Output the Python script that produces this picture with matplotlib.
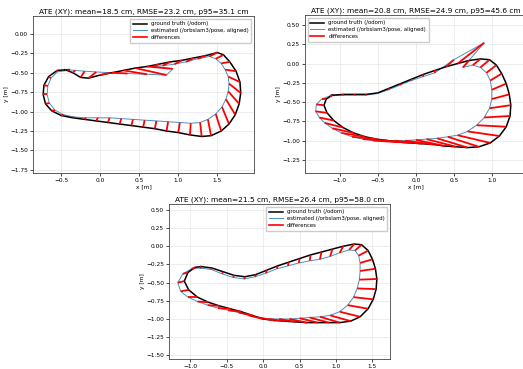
import matplotlib
matplotlib.use("Agg")
import matplotlib.pyplot as plt
from matplotlib.collections import LineCollection

# run 1 (top left)
gt1_x = [-0.40, -0.55, -0.66, -0.72, -0.73, -0.70, -0.62, -0.50, -0.35, -0.20, -0.05, 0.10, 0.25, 0.40, 0.55,
         0.70, 0.85, 1.00, 1.15, 1.30, 1.42, 1.55, 1.65, 1.73, 1.78, 1.80, 1.79, 1.74, 1.66, 1.58,
         1.50, 1.35, 1.20, 1.05, 0.90, 0.75, 0.60, 0.45, 0.30, 0.15, 0.00, -0.15, -0.25, -0.35, -0.45]
gt1_y = [-0.46, -0.47, -0.55, -0.66, -0.78, -0.90, -0.99, -1.05, -1.08, -1.10, -1.12, -1.14, -1.16, -1.18, -1.20,
         -1.22, -1.25, -1.27, -1.30, -1.32, -1.31, -1.25, -1.16, -1.04, -0.90, -0.76, -0.62, -0.48, -0.36, -0.27,
         -0.24, -0.28, -0.31, -0.34, -0.36, -0.39, -0.42, -0.44, -0.47, -0.50, -0.53, -0.57, -0.56, -0.50, -0.46]
est1_x = [-0.42, -0.55, -0.63, -0.67, -0.68, -0.65, -0.58, -0.47, -0.33, -0.18, -0.03, 0.12, 0.27, 0.42, 0.57,
          0.72, 0.87, 1.02, 1.16, 1.28, 1.38, 1.48, 1.56, 1.61, 1.64, 1.65, 1.64, 1.60, 1.55, 1.48,
          1.40, 1.25, 1.10, 0.95, 0.80, 0.68, 0.93, 0.85, 0.60, 0.35, 0.13, -0.05, -0.20, -0.32, -0.44]
est1_y = [-0.47, -0.49, -0.57, -0.67, -0.78, -0.89, -0.98, -1.04, -1.07, -1.08, -1.08, -1.08, -1.09, -1.10, -1.11,
          -1.12, -1.13, -1.14, -1.15, -1.14, -1.10, -1.03, -0.94, -0.84, -0.74, -0.64, -0.55, -0.46, -0.38, -0.32,
          -0.29, -0.32, -0.36, -0.39, -0.41, -0.42, -0.45, -0.53, -0.52, -0.51, -0.50, -0.49, -0.48, -0.47, -0.46]

# run 2 (top right)
gt2_x = [-1.10, -0.95, -0.80, -0.65, -0.50, -0.35, -0.20, -0.05, 0.10, 0.25, 0.40, 0.55, 0.70, 0.85,
         0.97, 1.06, 1.13, 1.19, 1.23, 1.25, 1.24, 1.19, 1.10, 0.98, 0.83, 0.68, 0.53, 0.38,
         0.23, 0.08, -0.07, -0.22, -0.37, -0.52, -0.67, -0.82, -0.96, -1.08, -1.17, -1.21, -1.18, -1.10]
gt2_y = [-0.41, -0.40, -0.40, -0.40, -0.38, -0.32, -0.26, -0.20, -0.14, -0.09, -0.04, 0.00, 0.04, 0.06,
         0.05, -0.02, -0.13, -0.26, -0.40, -0.54, -0.68, -0.82, -0.94, -1.03, -1.08, -1.09, -1.08, -1.07,
         -1.05, -1.04, -1.03, -1.02, -1.00, -0.98, -0.95, -0.90, -0.83, -0.74, -0.64, -0.54, -0.46, -0.41]
est2_x = [-1.13, -0.97, -0.81, -0.66, -0.51, -0.36, -0.21, -0.06, 0.09, 0.25, 0.50, 0.90, 0.62, 0.75,
          0.85, 0.93, 0.98, 1.00, 1.00, 0.97, 0.90, 0.80, 0.68, 0.55, 0.42, 0.28, 0.14, 0.00,
          -0.14, -0.28, -0.42, -0.56, -0.70, -0.84, -0.98, -1.10, -1.20, -1.27, -1.32, -1.31, -1.24, -1.13]
est2_y = [-0.42, -0.41, -0.41, -0.41, -0.39, -0.34, -0.28, -0.22, -0.17, -0.12, 0.05, 0.27, -0.05, -0.02,
          -0.05, -0.12, -0.22, -0.34, -0.46, -0.58, -0.70, -0.80, -0.88, -0.93, -0.95, -0.97, -0.98, -0.99,
          -1.00, -1.00, -1.00, -1.00, -0.98, -0.95, -0.90, -0.84, -0.77, -0.70, -0.62, -0.53, -0.46, -0.42]

# run 3 (bottom)
gt3_x = [-0.85, -0.70, -0.55, -0.40, -0.25, -0.10, 0.05, 0.20, 0.35, 0.50, 0.65, 0.80, 0.95, 1.10, 1.25,
         1.35, 1.44, 1.50, 1.54, 1.56, 1.55, 1.51, 1.44, 1.33, 1.20, 1.05, 0.90, 0.75, 0.60, 0.45,
         0.30, 0.15, 0.00, -0.15, -0.30, -0.45, -0.60, -0.75, -0.90, -1.02, -1.08, -1.03, -0.93, -0.85]
gt3_y = [-0.28, -0.30, -0.35, -0.40, -0.42, -0.39, -0.33, -0.27, -0.22, -0.17, -0.12, -0.08, -0.04, 0.00, 0.03,
         0.02, -0.06, -0.18, -0.31, -0.45, -0.59, -0.73, -0.86, -0.97, -1.03, -1.05, -1.05, -1.05, -1.05, -1.04,
         -1.03, -1.02, -1.00, -0.95, -0.90, -0.86, -0.82, -0.77, -0.70, -0.60, -0.48, -0.36, -0.29, -0.28]
est3_x = [-0.86, -0.71, -0.56, -0.41, -0.26, -0.11, 0.04, 0.19, 0.34, 0.49, 0.64, 0.78, 0.92, 1.05, 1.18,
          1.26, 1.31, 1.33, 1.33, 1.32, 1.29, 1.24, 1.16, 1.05, 0.92, 0.78, 0.64, 0.50, 0.36, 0.22,
          0.08, -0.06, -0.20, -0.34, -0.48, -0.62, -0.76, -0.90, -1.03, -1.13, -1.17, -1.10, -0.98, -0.86]
est3_y = [-0.30, -0.32, -0.38, -0.43, -0.45, -0.42, -0.37, -0.31, -0.27, -0.23, -0.20, -0.18, -0.14, -0.09, -0.05,
          -0.06, -0.13, -0.23, -0.34, -0.46, -0.58, -0.70, -0.81, -0.90, -0.95, -0.97, -0.98, -0.99, -1.00, -1.00,
          -1.00, -0.98, -0.95, -0.91, -0.88, -0.85, -0.81, -0.76, -0.70, -0.62, -0.50, -0.38, -0.31, -0.30]

titles = ["ATE (XY): mean=18.5 cm, RMSE=23.2 cm, p95=35.1 cm",
          "ATE (XY): mean=20.8 cm, RMSE=24.9 cm, p95=45.6 cm",
          "ATE (XY): mean=21.5 cm, RMSE=26.4 cm, p95=58.0 cm"]


def plot_one(ax, gx, gy, ex, ey, title, loc):
    segs = [[(gx[i], gy[i]), (ex[i], ey[i])] for i in range(len(gx))]
    ax.plot(gx, gy, color='black', lw=1.1, label='ground truth (/odom)', zorder=3)
    ax.plot(ex, ey, color='#4a90c0', lw=0.7, label='estimated (/orbslam3/pose, aligned)', zorder=2)
    ax.add_collection(LineCollection(segs, colors='red', linewidths=1.3, zorder=4))
    ax.plot([], [], color='red', lw=1.2, label='differences')
    ax.set_title(title, fontsize=5.3, pad=2)
    ax.set_xlabel('x [m]', fontsize=4.2, labelpad=1)
    ax.set_ylabel('y [m]', fontsize=4.2, labelpad=1)
    ax.tick_params(labelsize=4.2, length=2, width=0.5, pad=1.5)
    ax.grid(True, color='#e6e6e6', lw=0.5)
    for s in ax.spines.values():
        s.set_linewidth(0.6)
        s.set_color('#444444')
    ax.legend(loc=loc, fontsize=3.9, handlelength=2.5, borderpad=0.5, labelspacing=0.35,
              framealpha=1, edgecolor='#cccccc', fancybox=False)


W, H = 523, 369
fig = plt.figure(figsize=(W / 100, H / 100), dpi=100)

ax1 = fig.add_axes([33 / W, 1 - 173 / H, 221 / W, 157 / H])
plot_one(ax1, gt1_x, gt1_y, est1_x, est1_y, titles[0], 'upper right')
ax1.set_xlim(-0.86, 1.97)
ax1.set_ylim(-1.79, 0.23)
ax1.set_xticks([-0.5, 0.0, 0.5, 1.0, 1.5])
ax1.set_yticks([-1.75, -1.5, -1.25, -1.0, -0.75, -0.5, -0.25, 0.0])

ax2 = fig.add_axes([305 / W, 1 - 173 / H, 221 / W, 158 / H])
plot_one(ax2, gt2_x, gt2_y, est2_x, est2_y, titles[1], 'upper left')
ax2.set_xlim(-1.46, 1.45)
ax2.set_ylim(-1.42, 0.63)
ax2.set_xticks([-1.0, -0.5, 0.0, 0.5, 1.0])
ax2.set_yticks([-1.25, -1.0, -0.75, -0.5, -0.25, 0.0, 0.25, 0.5])

ax3 = fig.add_axes([169 / W, 1 - 359 / H, 221 / W, 155 / H])
plot_one(ax3, gt3_x, gt3_y, est3_x, est3_y, titles[2], 'upper right')
ax3.set_xlim(-1.29, 1.74)
ax3.set_ylim(-1.55, 0.58)
ax3.set_xticks([-1.0, -0.5, 0.0, 0.5, 1.0, 1.5])
ax3.set_yticks([-1.5, -1.25, -1.0, -0.75, -0.5, -0.25, 0.0, 0.25, 0.5])

fig.savefig('out.png', dpi=100)
